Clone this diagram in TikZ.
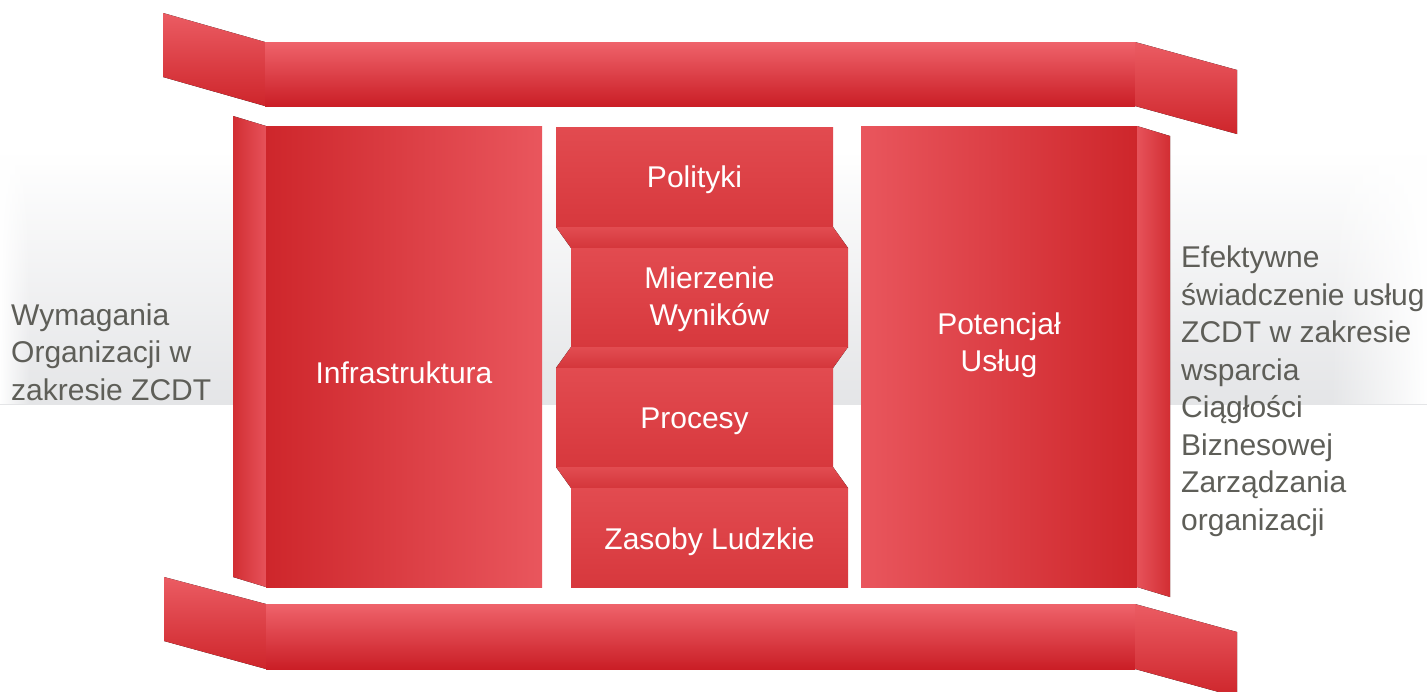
\documentclass[tikz,border=0pt]{standalone}
\usepackage{fontspec}
\setmainfont{Liberation Sans}
\usetikzlibrary{fadings}
\definecolor{bandgray}{HTML}{E4E5E7}
\definecolor{txtgray}{HTML}{5E5E58}
\definecolor{barlight}{HTML}{EF636B}
\definecolor{bardark}{HTML}{CA1E26}
\definecolor{winglight}{HTML}{EB5C63}
\definecolor{wingdark}{HTML}{CE252B}
\definecolor{coldark}{HTML}{CE262B}
\definecolor{collight}{HTML}{E9565D}
\definecolor{sidedark}{HTML}{D22E33}
\definecolor{sidelight}{HTML}{E6525A}
\definecolor{boxlight}{HTML}{E24B50}
\definecolor{boxdark}{HTML}{D7383D}
\definecolor{jointlight}{HTML}{E24C51}
\definecolor{jointdark}{HTML}{D4363B}
\tikzfading[name=fadeinR, left color=transparent!100, right color=transparent!0]
\tikzfading[name=fadeinL, left color=transparent!0, right color=transparent!100]
\tikzset{
  bar/.style={top color=barlight, bottom color=bardark},
  wing/.style={top color=winglight, bottom color=wingdark},
  colL/.style={left color=coldark, right color=collight},
  colR/.style={left color=collight, right color=coldark},
  sideL/.style={left color=sidedark, right color=sidelight},
  sideR/.style={left color=sidelight, right color=sidedark},
  stackbox/.style={top color=boxlight, bottom color=boxdark},
  joint/.style={top color=jointlight, bottom color=jointdark},
  boxtext/.style={text=white, align=center, font=\fontsize{30}{37.5}\selectfont, inner sep=0pt},
  sidetext/.style={text=txtgray, align=left, font=\fontsize{30}{37.5}\selectfont, inner sep=0pt, anchor=west}
}
\begin{document}
\begin{tikzpicture}[x=1pt,y=-1pt]
\useasboundingbox (0,0) rectangle (1427,691);
\clip (0,0) rectangle (1427,691);
% background band
\fill[top color=white, bottom color=bandgray] (0,150) rectangle (1427,404);
\fill[white, path fading=fadeinR] (1330,150) rectangle (1427.5,404);
\fill[white, path fading=fadeinL] (-0.5,150) rectangle (30,404);
% top bar
\fill[wing] (163,13) -- (265,42) -- (265,106) -- (163,77) -- cycle;
\fill[bar] (265,42) rectangle (1135,106);
\fill[wing] (1135,42) -- (1237,70) -- (1237,134) -- (1135,106) -- cycle;
% bottom bar
\fill[wing] (164,577) -- (266,604) -- (266,669) -- (164,641) -- cycle;
\fill[bar] (266,604) rectangle (1135,669);
\fill[wing] (1135,604) -- (1237,632) -- (1237,697) -- (1135,669) -- cycle;
% left column
\fill[sideL] (233,116) -- (266,126) -- (266,587) -- (233,577) -- cycle;
\fill[colL] (266,126) rectangle (542,587);
% right column
\fill[colR] (861,126) rectangle (1137,587);
\fill[sideR] (1137,126) -- (1170,136) -- (1170,597) -- (1137,587) -- cycle;
% middle stack
\fill[stackbox] (556,127) rectangle (833,227);
\fill[joint] (556,227) -- (833,227) -- (848,248) -- (571,248) -- cycle;
\fill[stackbox] (571,248) rectangle (848,347);
\fill[joint] (571,347) -- (848,347) -- (833,368) -- (556,368) -- cycle;
\fill[stackbox] (556,368) rectangle (833,467);
\fill[joint] (556,467) -- (833,467) -- (848,488) -- (571,488) -- cycle;
\fill[stackbox] (571,488) rectangle (848,587);
% texts
\node[boxtext] (infra) at (404,373) {Infrastruktura};
\node[boxtext] (potencjal) at (999,345) {Potencjał\\Usług};
\node[boxtext] (polityki) at (694.5,180) {Polityki};
\node[boxtext] (mierzenie) at (709.5,299) {Mierzenie\\Wyników};
\node[boxtext] (procesy) at (694.5,421) {Procesy};
\node[boxtext] (zasoby) at (709.5,542) {Zasoby Ludzkie};
\node[sidetext] (wymagania) at (11,352) {Wymagania\\Organizacji w\\zakresie ZCDT};
\node[sidetext] (efekt) at (1181,391) {Efektywne\\świadczenie usług\\ZCDT w zakresie\\wsparcia\\Ciągłości\\Biznesowej\\Zarządzania\\organizacji};
\end{tikzpicture}
\end{document}
